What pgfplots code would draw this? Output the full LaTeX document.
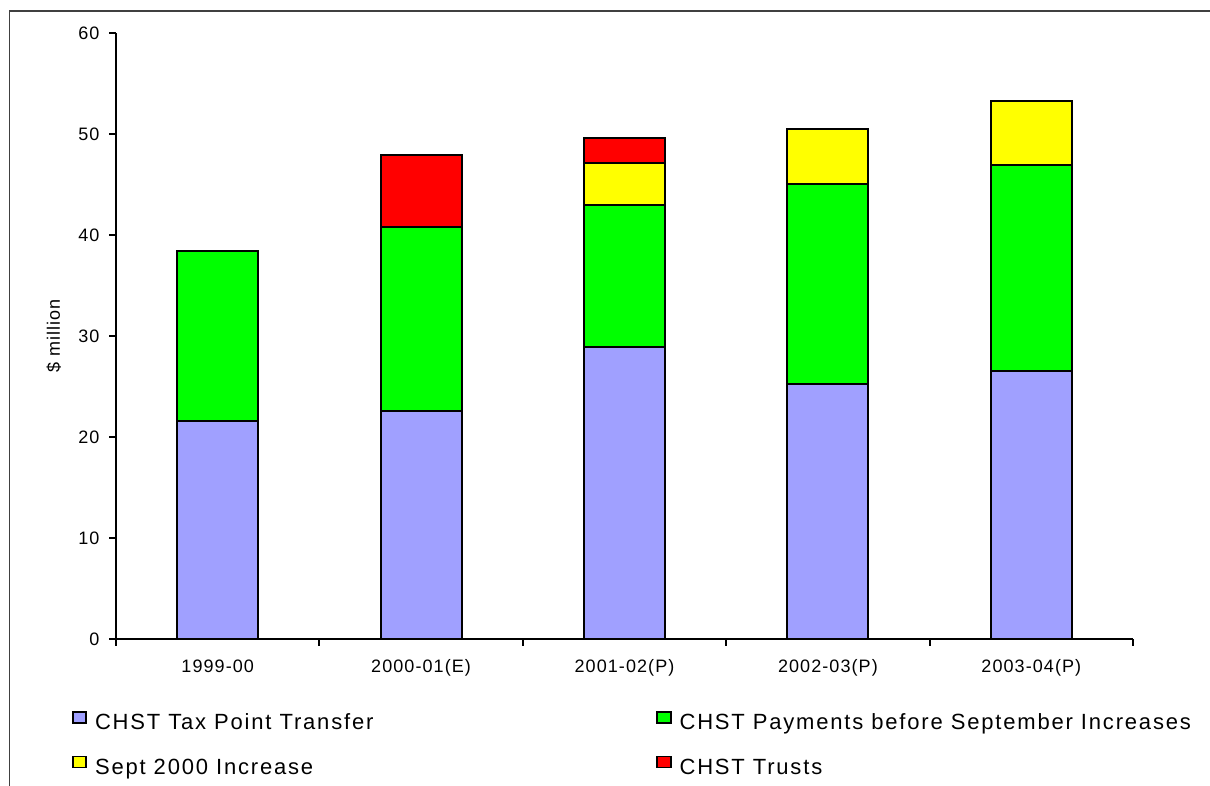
\documentclass[border=0pt]{standalone}
\usepackage{fontspec}
\setmainfont[LetterSpace=6]{Liberation Sans}
\newfontfamily\legfont[LetterSpace=8.3]{Liberation Sans}
\usepackage{pgfplots}
\pgfplotsset{compat=1.18}
\definecolor{cblue}{RGB}{160,160,255}
\definecolor{cgreen}{RGB}{0,255,0}
\definecolor{cyellow}{RGB}{255,255,0}
\definecolor{cred}{RGB}{255,0,0}
\begin{document}
\begin{tikzpicture}[x=1pt,y=1pt]
\useasboundingbox (0,0) rectangle (1210,786);
\draw[line width=1.6pt, black!75] (9.5,0) -- (9.5,775) -- (1210,775);
\begin{axis}[
  at={(116pt,147pt)}, anchor=south west,
  scale only axis, width=1017pt, height=606pt,
  xmin=-0.5, xmax=4.5, ymin=0, ymax=60,
  axis x line*=bottom, axis y line*=left,
  axis line style={line width=2pt, -},
  ytick={0,10,...,60},
  xtick={-0.5,0.5,...,4.5},
  x tick label as interval,
  xticklabels={1999-00,2000-01(E),2001-02(P),2002-03(P),2003-04(P)},
  tick align=outside, major tick length=7pt,
  tick style={line width=2pt, black},
  ybar stacked, bar width=81pt,
  tick label style={font=\fontsize{18}{20}\selectfont},
  xticklabel style={yshift=-10pt},
  yticklabel style={xshift=-6pt},
  /pgf/number format/assume math mode=true,
  ylabel={\$ million},
  every axis y label/.style={at={(axis description cs:-0.061,0.5)}, rotate=90, anchor=center, font=\fontsize{18}{20}\selectfont},
  legend columns=2,
  legend cell align=left,
  legend image code/.code={\draw[#1, line width=1.6pt] (0.5pt,1.5pt) rectangle (14pt,12.5pt);},
  legend style={at={(axis description cs:-0.0433,-0.1188)}, anchor=north west, draw=none, inner sep=0pt, outer sep=0pt,
    font=\legfont\fontsize{22}{24}\selectfont, row sep=21pt,
    nodes={inner sep=0pt, text height=16pt, text depth=5pt},
    /tikz/column 1/.style={column sep=8pt},
    /tikz/column 3/.style={column sep=8pt},
    /tikz/column 2/.style={column sep=283pt}},
]
\addplot[fill=cblue, draw=black, line width=2pt] coordinates {(0,21.6) (1,22.6) (2,28.9) (3,25.2) (4,26.5)};
\addlegendentry{CHST Tax Point Transfer}
\addplot[fill=cgreen, draw=black, line width=2pt] coordinates {(0,16.85) (1,18.2) (2,14.1) (3,19.85) (4,20.4)};
\addlegendentry{CHST Payments before September Increases}
\addplot[fill=cyellow, draw=black, line width=2pt] coordinates {(0,0) (1,0) (2,4.15) (3,5.45) (4,6.35)};
\addlegendentry{Sept 2000 Increase}
\addplot[fill=cred, draw=black, line width=2pt] coordinates {(0,0) (1,7.15) (2,2.5) (3,0) (4,0)};
\addlegendentry{CHST Trusts}
\end{axis}
\end{tikzpicture}
\end{document}
